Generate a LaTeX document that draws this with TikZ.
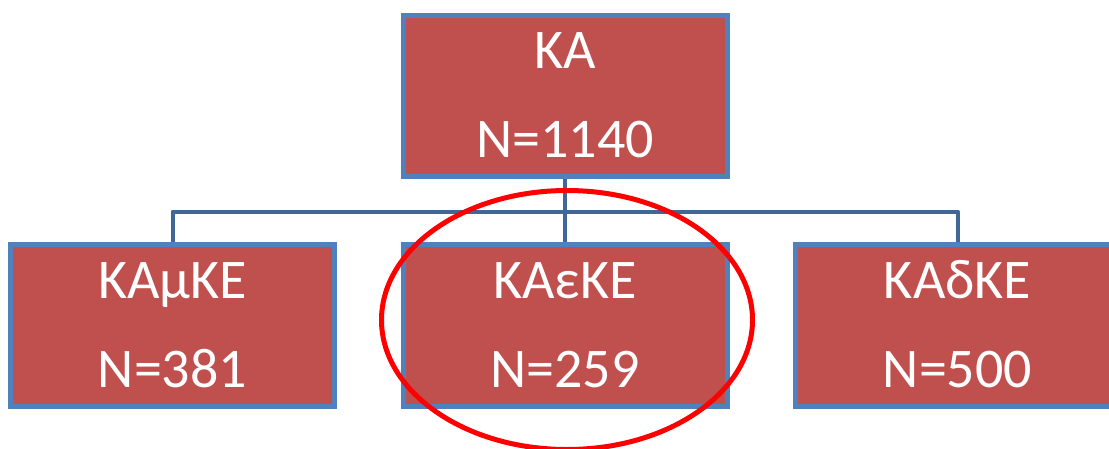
\documentclass[tikz,border=0pt]{standalone}
\usepackage{fontspec}
\setmainfont{Carlito}
\definecolor{boxfill}{HTML}{C0504D}
\definecolor{boxedge}{HTML}{4F81BD}
\definecolor{linkcol}{HTML}{3F6797}
\definecolor{ringcol}{HTML}{FF0000}
\tikzset{
  unitbox/.style={draw=boxedge, fill=boxfill, line width=5pt, inner sep=0pt,
    minimum width=324pt, minimum height=162pt, rectangle},
  boxtext/.style={text=white, font=\fontsize{56}{60}\selectfont, anchor=base, inner sep=0pt},
  link/.style={draw=linkcol, line width=4pt, line join=round},
  ring/.style={draw=ringcol, line width=5pt}
}
\begin{document}
\begin{tikzpicture}[x=1pt,y=-1pt]
\useasboundingbox (0,0) rectangle (1109,448);
\begin{scope}
\clip (0,0) rectangle (1109,448);
% connectors from the parent box to the three groups
\coordinate (bus) at (565,211.5);
\node[unitbox, minimum height=161pt] (top) at (565,96) {};
\node[unitbox] (left) at (172.5,325.5) {};
\node[unitbox] (mid) at (565,325.5) {};
\node[unitbox] (right) at (957.5,325.5) {};
\draw[link] (top.south) -- (mid.north);
\draw[link] (left.north) -- (left.north |- bus) -- (right.north |- bus) -- (right.north);
% redraw boxes over the connector ends
\node[unitbox, minimum height=161pt] at (565,96) {};
\node[unitbox] at (172.5,325.5) {};
\node[unitbox] at (565,325.5) {};
\node[unitbox] at (957.5,325.5) {};
% labels
\node[boxtext] (t1) at (565,68) {ΚΑ};
\node[boxtext] (t2) at (565,157) {N=1140};
\node[boxtext] (l1) at (172.5,298) {ΚΑμΚΕ};
\node[boxtext] (l2) at (172.5,387) {N=381};
\node[boxtext] (m1) at (565,298) {ΚΑεΚΕ};
\node[boxtext] (m2) at (565,387) {N=259};
\node[boxtext] (r1) at (957.5,298) {ΚΑδΚΕ};
\node[boxtext] (r2) at (957.5,387) {N=500};
% highlight around the middle group
\draw[ring] (567,320) ellipse [x radius=185.5, y radius=129.5];
\end{scope}
\end{tikzpicture}
\end{document}
